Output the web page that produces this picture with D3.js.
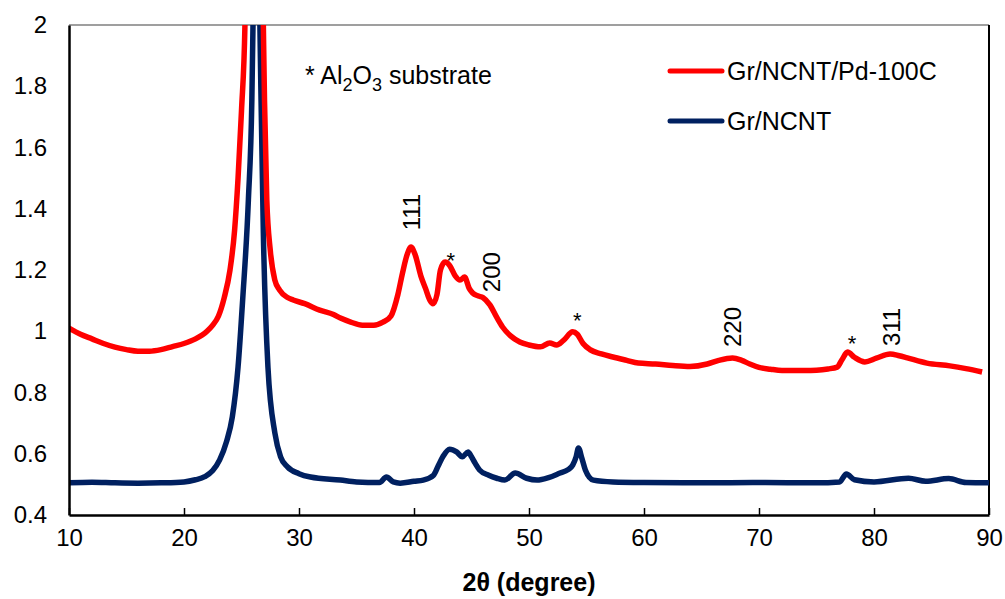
<!DOCTYPE html>
<html><head><meta charset="utf-8">
<script src="https://cdn.jsdelivr.net/npm/d3@7"></script>
<style>body{margin:0;background:#fff;}svg{display:block;font-family:Arial,"Liberation Sans",sans-serif;}</style>
</head><body><svg id="c" width="1005" height="599"></svg>
<script>
const redX=[10,11,12,13,14,15,16,17,18,19,20,21,22,22.5,23,23.5,24.0,24.4,24.7,25.0,25.3,25.6,26.1,26.6,26.9,27.0,27.2,27.5,27.9,28.3,29.0,29.5,30.5,31.8,33.0,33.6,34.5,35.5,36.5,37.3,38.0,38.6,39.0,39.4,39.74,40.1,40.6,41.0,41.4,41.65,42.0,42.3,42.7,43.1,43.6,44.0,44.4,44.8,45.1,45.6,46.0,46.6,47.2,47.7,48.4,49.2,50.0,51.0,51.8,52.4,53.0,53.8,54.2,54.7,55.3,56.3,57.3,58.5,59.5,61,62.5,64,65.5,66.5,67.7,68.5,69.2,70,71,72,73,74,75,76,76.8,77.2,77.7,78.3,79.2,80.2,81.4,82.2,82.9,84.6,86.6,88,89.4];
const redY=[1.01,0.99,0.975,0.96,0.948,0.94,0.935,0.935,0.94,0.95,0.96,0.975,1.0,1.02,1.05,1.11,1.2,1.33,1.5,1.72,2.0,2.8,3.5,2.8,2.0,1.755,1.43,1.265,1.167,1.135,1.11,1.102,1.09,1.069,1.055,1.043,1.03,1.02,1.02,1.03,1.05,1.12,1.19,1.25,1.275,1.25,1.18,1.14,1.10,1.09,1.12,1.2,1.226,1.215,1.18,1.167,1.177,1.14,1.125,1.115,1.11,1.086,1.045,1.014,0.985,0.965,0.955,0.949,0.962,0.955,0.97,0.998,0.99,0.96,0.94,0.926,0.916,0.905,0.896,0.893,0.888,0.885,0.893,0.905,0.913,0.905,0.893,0.882,0.876,0.872,0.872,0.872,0.873,0.877,0.883,0.906,0.932,0.915,0.9,0.912,0.926,0.92,0.913,0.896,0.887,0.878,0.867];
const blueX=[10,12,14,16,18,20,21,21.8,22.5,23.1,23.7,24.2,24.7,25.1,25.6,25.9,26.0,26.3,26.6,26.7,26.9,27.3,27.9,28.4,29.0,30.0,31.0,33.6,35,37.0,37.6,38.2,38.8,40.0,40.8,41.7,42.1,42.5,43.1,43.7,44.2,44.7,45.0,45.3,45.7,46.5,47.2,47.9,48.8,49.8,50.7,51.7,52.7,53.4,53.8,54.1,54.3,54.6,54.9,55.6,57.3,60,65,70,75,77.0,77.6,78.3,80,83,84.5,86.5,88,90];
const blueY=[0.505,0.507,0.505,0.504,0.505,0.508,0.515,0.525,0.545,0.58,0.64,0.72,0.883,1.102,1.43,1.755,2.0,3.5,2.0,1.755,1.32,0.883,0.668,0.59,0.557,0.535,0.524,0.514,0.508,0.506,0.524,0.508,0.504,0.51,0.514,0.53,0.56,0.59,0.615,0.606,0.59,0.606,0.59,0.57,0.547,0.53,0.52,0.514,0.537,0.52,0.514,0.522,0.537,0.548,0.563,0.59,0.619,0.585,0.547,0.514,0.508,0.506,0.505,0.506,0.505,0.508,0.534,0.515,0.508,0.52,0.51,0.519,0.506,0.505];
const seriesNames=["Gr/NCNT/Pd-100C","Gr/NCNT"];
const seriesColors=["#ff0000","#002060"];
const xTicks=[10,20,30,40,50,60,70,80,90];
const yTicks=[0.4,0.6,0.8,1,1.2,1.4,1.6,1.8,2];
const peakLabels=["111","200","220","311"];
const peakLabelX=[39.74,46.7,67.65,81.5];
const peakLabelY=[1.389,1.193,1.014,1.014];
const starX=[43.2,54.2,78.1];
const starY=[1.259,1.063,0.988];

const W=1005,H=599,m={l:69,r:16,t:25,b:84};
const svg=d3.select("#c");
const x=d3.scaleLinear().domain([10,90]).range([m.l,W-m.r]);
const y=d3.scaleLinear().domain([0.4,2]).range([H-m.b,m.t]);

svg.append("clipPath").attr("id","clip").append("rect")
  .attr("x",m.l).attr("y",m.t).attr("width",W-m.l-m.r).attr("height",H-m.t-m.b);

svg.append("line").attr("x1",m.l).attr("x2",W-m.r).attr("y1",m.t).attr("y2",m.t).attr("stroke","#7f7f7f").attr("stroke-width",1.5);
svg.append("line").attr("x1",W-m.r).attr("x2",W-m.r).attr("y1",m.t).attr("y2",H-m.b).attr("stroke","#000").attr("stroke-width",2);

const line=d3.line().x(d=>x(d[0])).y(d=>y(d[1])).curve(d3.curveMonotoneX);
const g=svg.append("g").attr("clip-path","url(#clip)");
g.append("path").datum(blueX.map((v,i)=>[v,blueY[i]])).attr("d",line)
  .attr("fill","none").attr("stroke",seriesColors[1]).attr("stroke-width",5.5).attr("stroke-linejoin","round");
g.append("path").datum(redX.map((v,i)=>[v,redY[i]])).attr("d",line)
  .attr("fill","none").attr("stroke",seriesColors[0]).attr("stroke-width",5.5).attr("stroke-linejoin","round");

const xa=svg.append("g").attr("transform",`translate(0,${H-m.b})`)
  .call(d3.axisBottom(x).tickValues(xTicks).tickSizeInner(-7).tickSizeOuter(0).tickPadding(14));
xa.select(".domain").attr("stroke","#000").attr("stroke-width",2.5);
xa.selectAll(".tick line").attr("stroke","#000").attr("stroke-width",1.5);
xa.selectAll(".tick text").attr("font-size",24).attr("fill","#000").attr("font-family","Arial, Liberation Sans");
const ya=svg.append("g").attr("transform",`translate(${m.l},0)`)
  .call(d3.axisLeft(y).tickValues(yTicks).tickSize(0).tickPadding(22).tickFormat(d3.format("~g")));
ya.select(".domain").attr("stroke","#000").attr("stroke-width",2.5);
ya.selectAll(".tick text").attr("font-size",24).attr("fill","#000").attr("font-family","Arial, Liberation Sans");

svg.append("text").attr("x",(m.l+W-m.r)/2).attr("y",591).attr("text-anchor","middle")
  .attr("font-size",25).attr("font-weight","bold").text("2θ (degree)");

peakLabels.forEach((t,i)=>{
  svg.append("text").attr("transform",`translate(${x(peakLabelX[i])},${y(peakLabelY[i])}) rotate(-90)`)
    .attr("text-anchor","middle").attr("dy","0.36em").attr("font-size",24).text(t);
});
starX.forEach((v,i)=>{
  svg.append("text").attr("x",x(v)).attr("y",y(starY[i])).attr("text-anchor","middle")
    .attr("dy","0.72em").attr("font-size",22).text("*");
});

const note=svg.append("text").attr("x",305).attr("y",84).attr("font-size",25);
note.append("tspan").text("* Al");
note.append("tspan").attr("font-size",18).attr("dy",7).text("2");
note.append("tspan").attr("dy",-7).text("O");
note.append("tspan").attr("font-size",18).attr("dy",7).text("3");
note.append("tspan").attr("dy",-7).text(" substrate");

const legY=[71,121];
seriesNames.forEach((n,i)=>{
  svg.append("line").attr("x1",670).attr("x2",722).attr("y1",legY[i]).attr("y2",legY[i])
    .attr("stroke",seriesColors[i]).attr("stroke-width",5).attr("stroke-linecap","round");
  svg.append("text").attr("x",727).attr("y",legY[i]).attr("dy","0.36em").attr("font-size",25).text(n);
});
</script></body></html>
